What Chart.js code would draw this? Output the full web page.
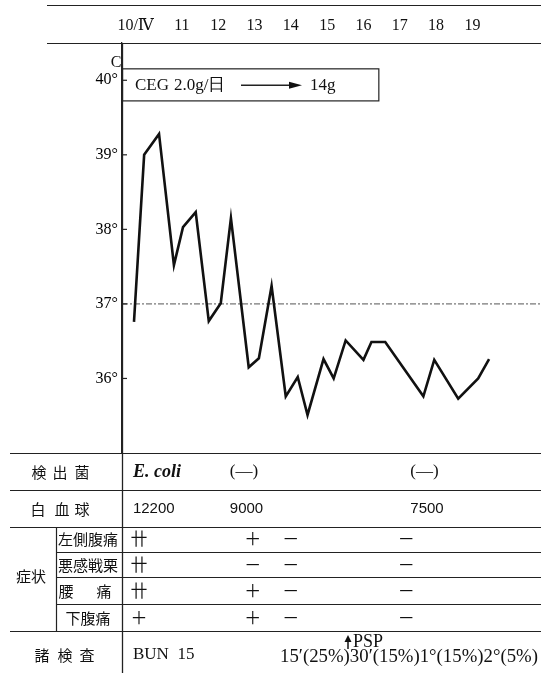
<!DOCTYPE html>
<html>
<head>
<meta charset="utf-8">
<script src="https://cdn.jsdelivr.net/npm/chart.js@4.4.1/dist/chart.umd.min.js"></script>
<style>
  html, body { margin: 0; padding: 0; background: #fff; }
  #wrap { position: absolute; left: 0; top: 0; width: 541px; height: 673px; }
</style>
</head>
<body>
<div id="wrap"><canvas id="chart" width="541" height="673"></canvas></div>
<script>
// temperature curve (day of April, degrees C)
const tempDays = [9.68, 9.96, 10.37, 10.78, 11.03, 11.38, 11.74, 12.07, 12.35, 12.84, 13.12, 13.47, 13.86,
                  14.19, 14.46, 14.90, 15.18, 15.51, 16.0, 16.22, 16.60, 17.65, 17.95, 18.61, 19.16, 19.46];
const tempValues = [36.76, 39.0, 39.28, 37.52, 38.03, 38.23, 36.77, 37.01, 38.15, 36.15, 36.27, 37.24, 35.76,
                    36.02, 35.51, 36.26, 36.0, 36.51, 36.25, 36.49, 36.49, 35.76, 36.25, 35.73, 36.0, 36.26];

// top date row
const dateDays = [10, 11, 12, 13, 14, 15, 16, 17, 18, 19];
const dateLabels = ['10/Ⅳ', '11', '12', '13', '14', '15', '16', '17', '18', '19'];

// y ticks
const tempTicks = [36, 37, 38, 39, 40];

// table rows
const bacteriaDays = [9.65, 12.32, 17.29];
const bacteriaText = ['E. coli', '(—)', '(—)'];
const wbcDays = [9.65, 12.32, 17.29];
const wbcText = ['12200', '9000', '7500'];

const symptomDays = [9.82, 12.95, 14.0, 17.18];
const symptomNames = ['左側腹痛', '悪感戦栗', '腰痛', '下腹痛'];
const symptomMarks = [
  ['卄', '＋', '－', '－'],
  ['卄', '－', '－', '－'],
  ['卄', '＋', '－', '－'],
  ['＋', '＋', '－', '－']
];

const SERIF = '"Liberation Serif", "DejaVu Serif", serif';
const JP = '"Noto Sans CJK JP", sans-serif';

function text(ctx, str, x, y, font, align, maxW) {
  ctx.font = font;
  ctx.textAlign = align || 'center';
  ctx.textBaseline = 'middle';
  if (maxW) ctx.fillText(str, x, y, maxW);
  else ctx.fillText(str, x, y);
}

function hline(ctx, x1, x2, y, w) {
  ctx.lineWidth = w || 1;
  ctx.beginPath();
  ctx.moveTo(x1, y + 0.5);
  ctx.lineTo(x2, y + 0.5);
  ctx.stroke();
}

function upArrow(ctx, x, yTop, yBot) {
  ctx.lineWidth = 1.6;
  ctx.beginPath();
  ctx.moveTo(x, yTop + 4);
  ctx.lineTo(x, yBot);
  ctx.stroke();
  ctx.beginPath();
  ctx.moveTo(x, yTop);
  ctx.lineTo(x - 3.5, yTop + 7);
  ctx.lineTo(x + 3.5, yTop + 7);
  ctx.closePath();
  ctx.fill();
}

const tablePlugin = {
  id: 'tablePlugin',
  afterDraw(chart) {
    const ctx = chart.ctx;
    const xs = chart.scales.x;
    const ys = chart.scales.y;
    const area = chart.chartArea;
    const W = chart.width;
    ctx.save();
    ctx.strokeStyle = '#222';
    ctx.fillStyle = '#111';

    // header lines and date labels
    hline(ctx, 47, W, 5, 1.2);
    hline(ctx, 47, W, 43, 1.2);
    dateDays.forEach((d, i) => {
      const x = xs.getPixelForValue(d) + (i === 0 ? -10 : 0);
      text(ctx, dateLabels[i], x, 26, '16px ' + SERIF);
    });

    // main vertical line through the table
    ctx.lineWidth = 1.3;
    ctx.beginPath();
    ctx.moveTo(area.left + 0.5, 43);
    ctx.lineTo(area.left + 0.5, 673);
    ctx.stroke();

    // inward tick marks and C label
    tempTicks.forEach(t => {
      const y = ys.getPixelForValue(t);
      hline(ctx, area.left, area.left + 5, y - 0.5, 1.2);
    });
    text(ctx, 'C', area.left - 6, ys.getPixelForValue(40) - 17, '16px ' + SERIF);

    // drug box
    const bx2 = xs.getPixelForValue(16.41);
    const by1 = ys.getPixelForValue(40.16);
    const by2 = ys.getPixelForValue(39.73);
    ctx.lineWidth = 1.2;
    ctx.strokeRect(area.left + 0.5, by1 + 0.5, bx2 - area.left, by2 - by1);
    const my = (by1 + by2) / 2 + 1;
    text(ctx, 'CEG', 135, my, '17px ' + SERIF, 'left');
    text(ctx, '2.0g/日', 174, my, '17px ' + SERIF, 'left', 60);
    ctx.lineWidth = 1.5;
    ctx.beginPath();
    ctx.moveTo(241, my);
    ctx.lineTo(296, my);
    ctx.stroke();
    ctx.beginPath();
    ctx.moveTo(302, my);
    ctx.lineTo(289, my - 3.5);
    ctx.lineTo(289, my + 3.5);
    ctx.closePath();
    ctx.fill();
    text(ctx, '14g', 310, my, '17px ' + SERIF, 'left');

    // table lines
    hline(ctx, 10, W, 453, 1.2);
    hline(ctx, 10, W, 490, 1.2);
    hline(ctx, 10, W, 527, 1.2);
    hline(ctx, 56, W, 552, 1);
    hline(ctx, 56, W, 577, 1);
    hline(ctx, 56, W, 604, 1);
    hline(ctx, 10, W, 631, 1.2);
    ctx.lineWidth = 1.2;
    ctx.beginPath();
    ctx.moveTo(56.5, 527);
    ctx.lineTo(56.5, 631);
    ctx.stroke();

    // row headers
    const hf = '15px ' + JP;
    [['検', 39], ['出', 60], ['菌', 82]].forEach(c => text(ctx, c[0], c[1], 472, hf));
    [['白', 38], ['血', 62], ['球', 82]].forEach(c => text(ctx, c[0], c[1], 509, hf));
    [['諸', 42], ['検', 65], ['査', 87]].forEach(c => text(ctx, c[0], c[1], 655, hf));
    text(ctx, '症状', 31, 576, hf);
    const rowY = [539, 565, 591, 618];
    text(ctx, symptomNames[0], 88, rowY[0], hf);
    text(ctx, symptomNames[1], 88, rowY[1], hf);
    text(ctx, '腰', 66, rowY[2], hf);
    text(ctx, '痛', 104, rowY[2], hf);
    text(ctx, symptomNames[3], 88, rowY[3], hf);

    // bacteria and WBC
    bacteriaDays.forEach((d, i) => {
      const f = i === 0 ? 'italic bold 18px ' + SERIF : '17px ' + SERIF;
      text(ctx, bacteriaText[i], xs.getPixelForValue(d), 472, f, 'left');
    });
    wbcDays.forEach((d, i) => {
      text(ctx, wbcText[i], xs.getPixelForValue(d), 509, '15px "Liberation Sans", sans-serif', 'left');
    });

    // symptom marks
    symptomMarks.forEach((row, r) => {
      row.forEach((m, c) => {
        text(ctx, m, xs.getPixelForValue(symptomDays[c]), rowY[r], '17px ' + JP);
      });
    });

    // other tests
    text(ctx, 'BUN  15', 133, 655, '17px ' + SERIF, 'left');
    upArrow(ctx, 348, 635, 649);
    text(ctx, 'PSP', 353, 642, '18px ' + SERIF, 'left');
    text(ctx, "15′(25%)30′(15%)1°(15%)2°(5%)", 280, 657, '19px ' + SERIF, 'left', 258);

    ctx.restore();
  }
};

new Chart(document.getElementById('chart'), {
  type: 'line',
  data: {
    datasets: [
      {
        data: tempDays.map((d, i) => ({ x: d, y: tempValues[i] })),
        borderColor: '#111',
        borderWidth: 2.6,
        pointRadius: 0,
        tension: 0,
        borderJoinStyle: 'miter'
      },
      {
        data: [{ x: 9.35, y: 37 }, { x: 20.89, y: 37 }],
        borderColor: '#555',
        borderWidth: 1,
        borderDash: [6, 2, 2, 2],
        pointRadius: 0
      }
    ]
  },
  options: {
    responsive: false,
    animation: false,
    devicePixelRatio: 1,
    layout: { padding: { left: 0, right: 0, top: 43, bottom: 220 } },
    plugins: { legend: { display: false }, tooltip: { enabled: false } },
    scales: {
      x: { type: 'linear', min: 9.35, max: 20.89, display: false },
      y: {
        min: 35, max: 40.5,
        afterFit: s => { s.width = 122; },
        grid: { display: false, drawTicks: false },
        border: { display: true, color: '#222', width: 1.3 },
        ticks: {
          stepSize: 1,
          padding: 4,
          color: '#000',
          font: { family: SERIF, size: 16 },
          callback: v => (v >= 36 && v <= 40 && Number.isInteger(v)) ? v + '°' : ''
        }
      }
    }
  },
  plugins: [tablePlugin]
});
</script>
</body>
</html>
